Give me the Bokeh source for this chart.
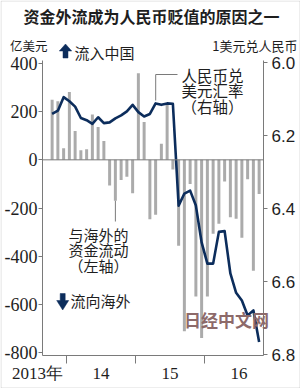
from bokeh.plotting import figure
from bokeh.models import (Range1d, LinearAxis, FixedTicker, Span, Label,
                          BoxAnnotation, Column)
from bokeh.embed import file_html
from bokeh.resources import INLINE

# ---------------- data ----------------
months = [f"{y}-{m:02d}" for y in range(2013, 2017) for m in range(1, 13)][9:46]
flows = [250, 243, 48, 282, 120, 40, 44, 188, 136, 78,
         -107, -170, -84, -70, -139, 360, 157, -247, -228, 67,
         236, -40, -357, -712, -100, -568, -740, -568, -307, -265,
         -90, -238, -245, -324, -81, -461, -142]
rate = [6.141, 6.132, 6.095, 6.106, 6.121, 6.152, 6.158, 6.168, 6.150, 6.166,
        6.164, 6.153, 6.145, 6.134, 6.116, 6.136, 6.148, 6.141, 6.112, 6.116,
        6.112, 6.113, 6.392, 6.359, 6.351, 6.392, 6.493, 6.551, 6.551, 6.464,
        6.462, 6.578, 6.631, 6.652, 6.693, 6.679, 6.766]
left_ticks = [400, 200, 0, -200, -400, -600, -800]
left_tick_labels = ["400", "200", "0", "-200", "-400", "-600", "-800"]
right_ticks = [6.0, 6.2, 6.4, 6.6, 6.8]
right_tick_labels = ["6.0", "6.2", "6.4", "6.6", "6.8"]
year_bounds = [12, 24, 36]
year_label_pos = [18, 30, 42]
year_labels = ["14", "15", "16"]
first_year_label = "2013年"

title = "资金外流成为人民币贬值的原因之一"
left_unit = "亿美元"
right_unit = "1美元兑人民币"
inflow_text = "流入中国"
outflow_text = "流向海外"
rate_note = ["人民币兑", "美元汇率", "（右轴）"]
flow_note = ["与海外的", "资金流动", "（左轴）"]
watermark = "日经中文网"

# month -> position (months since Jan 2013, bar centred in its month)
xs = [(int(s[:4]) - 2013) * 12 + int(s[5:]) - 1 + 0.5 for s in months]

# ---------------- geometry (page pixels) ----------------
W, H = 300, 388
FL, FR, FT, FB = 42, 263, 60, 355
M_PX = 5.75
X0 = 12 - (66 - FL) / M_PX
X1 = X0 + (FR - FL) / M_PX
Y_BOT, Y_TOP = -812.5, 412.5
R_BOT, R_TOP = 6.8027, 5.9945


def px2x(px):
    return X0 + (px - FL) / M_PX


def py2y(py):
    return Y_TOP - (py - FT) * (Y_TOP - Y_BOT) / (FB - FT)


NAVY = "#0c2d5c"
BAR = "#ababab"
AXC = "#7a7a7a"
TXT = "#1e1e1e"
CJK = "Noto Sans CJK SC"
NUM = "Liberation Sans Narrow"

p = figure(width=W, height=H, x_range=Range1d(X0, X1), y_range=Range1d(Y_BOT, Y_TOP),
           output_backend="svg", toolbar_location=None,
           min_border_left=FL, min_border_right=W - FR,
           min_border_top=FT, min_border_bottom=H - FB)
p.frame_align = False
p.grid.visible = False
p.outline_line_color = None
p.background_fill_color = "white"
p.border_fill_color = "white"

# left axis
yax = p.yaxis[0]
yax.ticker = FixedTicker(ticks=left_ticks)
yax.major_label_overrides = dict(zip(left_ticks, left_tick_labels))
yax.axis_line_color = AXC
yax.major_tick_line_color = AXC
yax.major_tick_out = 4
yax.major_tick_in = 0
yax.minor_tick_line_color = None
yax.major_label_standoff = 1
yax.major_label_text_font = NUM
yax.major_label_text_font_size = "18px"
yax.major_label_text_color = TXT

# bottom axis
xax = p.xaxis[0]
xax.ticker = FixedTicker(ticks=year_label_pos, minor_ticks=year_bounds)
xax.major_label_overrides = dict(zip(year_label_pos, year_labels))
xax.axis_line_color = AXC
xax.major_tick_out = 0
xax.major_tick_in = 0
xax.major_tick_line_color = None
xax.minor_tick_out = 8
xax.minor_tick_in = 0
xax.minor_tick_line_color = AXC
xax.major_label_standoff = 4
xax.major_label_text_font = NUM
xax.major_label_text_font_size = "17px"
xax.major_label_text_color = TXT

# right axis
p.extra_y_ranges = {"rate": Range1d(R_BOT, R_TOP)}
rax = LinearAxis(y_range_name="rate", ticker=FixedTicker(ticks=right_ticks))
rax.major_label_overrides = dict(zip(right_ticks, right_tick_labels))
rax.axis_line_color = AXC
rax.major_tick_line_color = AXC
rax.major_tick_out = 4
rax.major_tick_in = 0
rax.minor_tick_line_color = None
rax.major_label_standoff = 4
rax.major_label_text_font = "Liberation Sans"
rax.major_label_text_font_size = "17px"
rax.major_label_text_color = TXT
p.add_layout(rax, "right")

# data marks
p.vbar(x=xs, top=flows, bottom=0, width=0.52, fill_color=BAR, line_color=None)
p.add_layout(Span(location=0, dimension="width", line_color=AXC, line_width=1))
p.line(xs, rate, y_range_name="rate", line_color=NAVY, line_width=2.6,
       line_join="round")

# leader lines
p.segment(x0=[px2x(155.2), px2x(155.2), xs[11]],
          y0=[py2y(100), py2y(74), flows[11]],
          x1=[px2x(155.2), px2x(177), xs[11]],
          y1=[py2y(74), py2y(74), py2y(221)],
          line_color=AXC, line_width=1)

# ---------------- overlay in page pixels (texts outside the frame) ----------------
ov = figure(width=W, height=H, x_range=Range1d(0, W), y_range=Range1d(H, 0),
            output_backend="svg", toolbar_location=None,
            min_border=0, min_border_left=0, min_border_right=0,
            min_border_top=0, min_border_bottom=0,
            x_axis_location=None, y_axis_location=None,
            background_fill_color=None, border_fill_color=None,
            outline_line_color=None)
ov.frame_align = False
ov.grid.visible = False
ov.margin = (-H, 0, 0, 0)


def lab(text, px, py, size, font=CJK, align="left", style="normal", color=TXT):
    ov.add_layout(Label(x=px, y=py, text=text, text_font=font,
                        text_font_size=size, text_align=align, text_baseline="middle",
                        text_font_style=style, text_color=color))


lab(title, 23, 15.5, "16px", style="bold")
lab(left_unit, 9.5, 44.5, "12.5px")
lab(right_unit, 297, 44.5, "13px", align="right")
lab(inflow_text, 74, 51.5, "15px")
lab(outflow_text, 70, 300, "15px")
for t, yy in zip(rate_note, [74, 89, 105]):
    lab(t, 212, yy, "15.5px", align="center")
for t, yy in zip(flow_note, [234, 248.5, 265]):
    lab(t, 98, yy, "15px", align="center")
lab(first_year_label, 37, 373, "17px", font=NUM, align="center")
lab(watermark, 226, 319, "17px", style="bold", color="#8d6a6a", align="center")

# block arrows
up = [(65, 43.5), (71.2, 50.5), (67.5, 50.5), (67.5, 57.5), (62.5, 57.5), (62.5, 50.5), (58.8, 50.5)]
dn = [(59.7, 293), (64.7, 293), (64.7, 300), (68.2, 300), (62.2, 309.5), (56.2, 300), (59.7, 300)]
ov.patches(xs=[[a for a, b in s] for s in (up, dn)], ys=[[b for a, b in s] for s in (up, dn)],
           fill_color=NAVY, line_color=NAVY, line_width=0.5)

# thin frame round the whole picture
ov.add_layout(BoxAnnotation(left=0.5, right=W - 0.5, top=0.5, bottom=H - 0.5,
                            fill_alpha=0, line_color="#8c8c8c", line_width=1))

layout = Column(children=[p, ov], spacing=0)
open("out.html", "w").write(file_html(layout, INLINE))
